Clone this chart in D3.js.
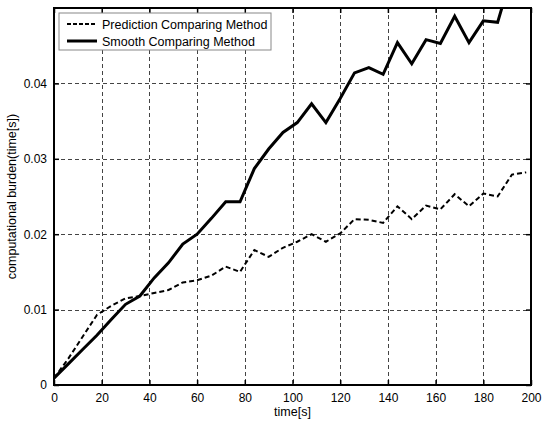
<!DOCTYPE html>
<html lang="en">
<head>
  <meta charset="UTF-8">
  <title>Computational burden</title>
  <style>
    body { margin: 0; background: #fff; }
    svg text { font-family: "Liberation Sans", Arial, sans-serif; fill: #000; }
    .grid line { stroke: #444; stroke-width: 1; stroke-dasharray: 4,3; shape-rendering: crispEdges; }
  </style>
  <script src="https://cdn.jsdelivr.net/npm/d3@7"></script>
</head>
<body>
<div id="chart"></div>
<script>
// sample times (s)
var times = [0, 6, 12, 18, 24, 30, 36, 42, 48, 54, 60, 66, 72, 78, 84, 90, 96,
  102, 108, 114, 120, 126, 132, 138, 144, 150, 156, 162, 168, 174, 180, 186, 192, 198];

var prediction = [0.0009, 0.0035, 0.0064, 0.0093, 0.0105, 0.0115, 0.0118, 0.0122, 0.0126,
  0.0136, 0.0139, 0.0145, 0.0157, 0.0150, 0.0179, 0.0170, 0.0182, 0.0190, 0.0200, 0.0190,
  0.0201, 0.0220, 0.0219, 0.0215, 0.0237, 0.0220, 0.0238, 0.0233, 0.0253, 0.0237, 0.0254,
  0.0250, 0.0279, 0.0282];

var smooth = [0.0009, 0.0028, 0.0047, 0.0066, 0.0087, 0.0107, 0.0118, 0.0142, 0.0162,
  0.0187, 0.0200, 0.0221, 0.0243, 0.0243, 0.0287, 0.0313, 0.0335, 0.0348, 0.0373, 0.0348,
  0.0380, 0.0414, 0.0421, 0.0412, 0.0454, 0.0426, 0.0458, 0.0453, 0.0489, 0.0454, 0.0483,
  0.0481, 0.0545, 0.0560];

var xTicks = [0, 20, 40, 60, 80, 100, 120, 140, 160, 180, 200];
var yTicks = [0, 0.01, 0.02, 0.03, 0.04];
var seriesNames = ["Prediction Comparing Method", "Smooth Comparing Method"];

var width = 550, height = 423;
var margin = {left: 54, right: 19, top: 8, bottom: 38};
var w = width - margin.left - margin.right,
    h = height - margin.top - margin.bottom;

var x = d3.scaleLinear().domain([0, 200]).range([0, w]);
var y = d3.scaleLinear().domain([0, 0.05]).range([h, 0]);

var svg = d3.select("#chart").append("svg")
    .attr("width", width)
    .attr("height", height);

var g = svg.append("g")
    .attr("transform", "translate(" + margin.left + "," + margin.top + ")");

svg.append("defs").append("clipPath").attr("id", "clip")
  .append("rect").attr("width", w).attr("height", h);

// grid
g.append("g").attr("class", "grid")
  .selectAll("line").data(xTicks.slice(1, -1)).enter().append("line")
    .attr("x1", d => Math.round(x(d)) + 0.5).attr("x2", d => Math.round(x(d)) + 0.5)
    .attr("y1", 0).attr("y2", h);
g.append("g").attr("class", "grid")
  .selectAll("line").data(yTicks.slice(1)).enter().append("line")
    .attr("y1", d => Math.round(y(d)) + 0.5).attr("y2", d => Math.round(y(d)) + 0.5)
    .attr("x1", 0).attr("x2", w);

// axes (ticks inside, on all four sides)
var fmtY = d => d === 0 ? "0" : d3.format(".2f")(d);
var xb = g.append("g").attr("transform", "translate(0," + h + ")")
  .call(d3.axisBottom(x).tickValues(xTicks).tickSize(-5).tickPadding(8).tickFormat(d3.format("d")));
var xt = g.append("g")
  .call(d3.axisTop(x).tickValues(xTicks).tickSize(-5).tickFormat(""));
var yl = g.append("g")
  .call(d3.axisLeft(y).tickValues(yTicks).tickSize(-5).tickPadding(7).tickFormat(fmtY));
var yr = g.append("g").attr("transform", "translate(" + w + ",0)")
  .call(d3.axisRight(y).tickValues(yTicks).tickSize(-5).tickFormat(""));
[xb, xt, yl, yr].forEach(function(a) {
  a.select(".domain").remove();
  a.selectAll("line").attr("stroke", "#000").attr("stroke-width", 1.5);
  a.selectAll("text").style("font-size", "12px");
});

// lines
var line = d3.line()
  .x((d, i) => x(times[i]))
  .y(d => y(d));

var plot = g.append("g").attr("clip-path", "url(#clip)");
plot.append("path").datum(prediction)
  .attr("d", line).attr("fill", "none")
  .attr("stroke", "#000").attr("stroke-width", 2)
  .attr("stroke-dasharray", "5,3");
plot.append("path").datum(smooth)
  .attr("d", line).attr("fill", "none")
  .attr("stroke", "#000").attr("stroke-width", 3)
  .attr("stroke-linejoin", "miter");

// frame
g.append("rect").attr("width", w).attr("height", h)
  .attr("fill", "none").attr("stroke", "#000").attr("stroke-width", 2);

// legend
var lg = g.append("g").attr("transform", "translate(5,5)");
lg.append("rect").attr("width", 212).attr("height", 37)
  .attr("fill", "#fff").attr("stroke", "#888").attr("stroke-width", 1);
seriesNames.forEach(function(name, i) {
  var ly = 11 + i * 17;
  lg.append("line").attr("x1", 8).attr("x2", 38).attr("y1", ly).attr("y2", ly)
    .attr("stroke", "#000").attr("stroke-width", i ? 3 : 2)
    .attr("stroke-dasharray", i ? null : "4,2");
  lg.append("text").attr("x", 43).attr("y", ly + 4.5).style("font-size", "12.5px").text(name);
});

// axis labels
svg.append("text").attr("x", margin.left + x(100)).attr("y", 416)
  .attr("text-anchor", "middle").style("font-size", "12.5px").text("time[s]");
svg.append("text")
  .attr("transform", "translate(16," + (margin.top + h / 2) + ") rotate(-90)")
  .attr("text-anchor", "middle").style("font-size", "12.5px")
  .text("computational burden(time[s])");
</script>
</body>
</html>
